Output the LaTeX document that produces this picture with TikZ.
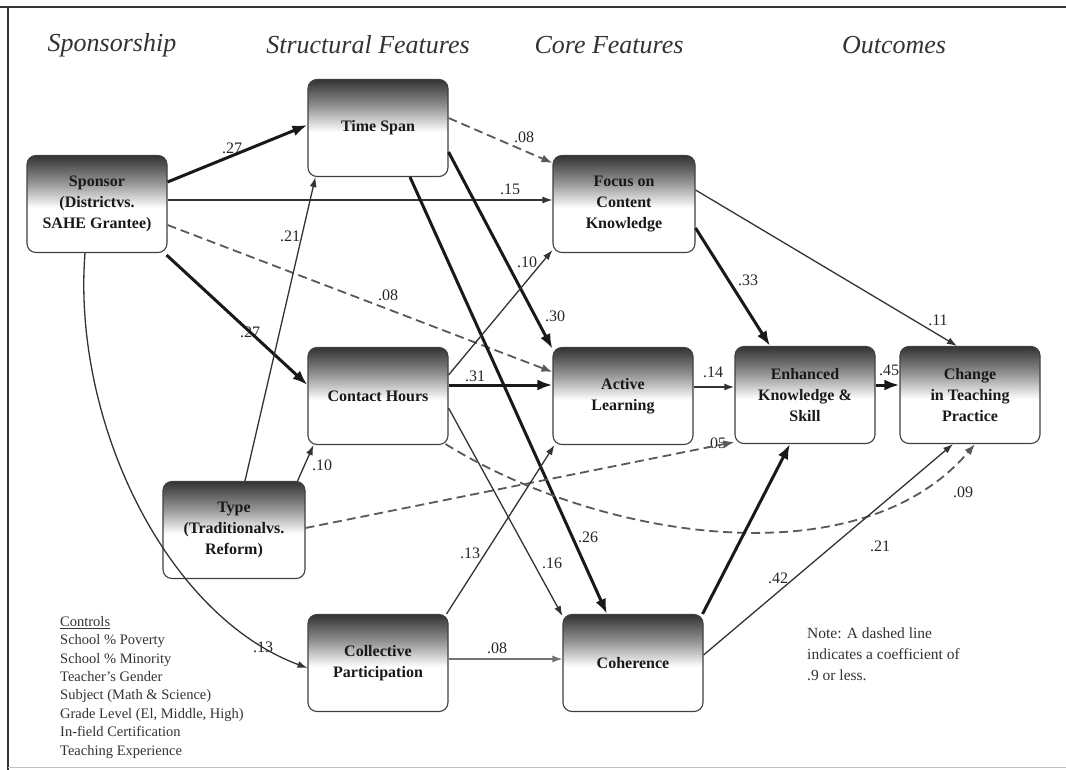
\documentclass[tikz,border=0pt]{standalone}
\usepackage{fontspec}
\setmainfont{Liberation Serif}
\usetikzlibrary{arrows.meta,calc}
\pgfdeclareverticalshading{boxshade}{100bp}{color(0bp)=(white); color(25bp)=(white); color(48bp)=(white); color(61bp)=(black!42); color(75bp)=(black!80); color(100bp)=(black!80)}
\tikzset{
  box/.style={rectangle, rounded corners=9pt, draw=black!75, line width=1.1pt,
    shade, shading=boxshade, minimum width=140pt, minimum height=97pt, inner sep=0pt,
    align=center, font=\bfseries\fontsize{16}{21}\selectfont, text=black!90},
  hdr/.style={font=\itshape\fontsize{26}{30}\selectfont, text=black!80, inner sep=0pt},
  lab/.style={font=\fontsize{16}{18}\selectfont, text=black!85, inner sep=0pt},
  heavy/.style={line width=3pt, black!90, -{Latex[length=15pt,width=11pt]}},
  lite/.style={line width=1.3pt, black!80, -{Latex[length=10pt,width=7pt]}},
  dsh/.style={line width=1.8pt, black!65, dash pattern=on 9pt off 5pt, -{Latex[length=11pt,width=8pt]}},
  note/.style={font=\fontsize{15.5}{21}\selectfont, text=black!80, align=left, inner sep=0pt}
}
\begin{document}
\begin{tikzpicture}[x=1pt,y=-1pt]
\useasboundingbox (0,0) rectangle (1066,770);
\fill[white] (0,0) rectangle (1066,770);
% frame
\draw[line width=2pt, black!80] (0,7) -- (1066,7);
\draw[line width=1.6pt, black!80] (8,7) -- (8,770);
\draw[line width=0.8pt, black!25] (8,767) -- (1066,767);

% headers
\node[hdr] (h1) at (112,45) {Sponsorship};
\node[hdr] (h2) at (368,45) {Structural Features};
\node[hdr] (h3) at (609,45) {Core Features};
\node[hdr] (h4) at (894,45) {Outcomes};

% boxes
\node[box] (sp) at (97,204) {Sponsor\\(Districtvs.\\SAHE Grantee)};
\node[box] (ts) at (378,128) {Time Span};
\node[box, minimum width=142pt] (fo) at (624,204) {Focus on\\Content\\Knowledge};
\node[box] (ch) at (378,396) {Contact Hours};
\node[box] (al) at (623,396) {Active\\Learning};
\node[box] (ek) at (805,395) {Enhanced\\Knowledge \&\\Skill};
\node[box] (ct) at (970,395) {Change\\in Teaching\\Practice};
\node[box, minimum width=142pt] (ty) at (234,530) {Type\\(Traditionalvs.\\Reform)};
\node[box] (cp) at (378,663) {Collective\\Participation};
\node[box] (co) at (633,663) {Coherence};

% labels
\node[lab] (l1) at (232,148) {.27};
\node[lab] (l2) at (510,189) {.15};
\node[lab] (l3) at (524,137) {.08};
\node[lab] (l4) at (290,236) {.21};
\node[lab] (l5) at (527,262) {.10};
\node[lab] (l6) at (388,295) {.08};
\node[lab] (l7) at (250,332) {.27};
\node[lab] (l8) at (555,316) {.30};
\node[lab] (l9) at (748,280) {.33};
\node[lab] (l10) at (938,320) {.11};
\node[lab] (l11) at (475,376) {.31};
\node[lab] (l12) at (713,372) {.14};
\node[lab] (l13) at (889,370) {.45};
\node[lab] (l14) at (322,465) {.10};
\node[lab] (l15) at (716,443) {.05};
\node[lab] (l16) at (470,553) {.13};
\node[lab] (l17) at (588,537) {.26};
\node[lab] (l18) at (552,563) {.16};
\node[lab] (l19) at (778,578) {.42};
\node[lab] (l20) at (880,546) {.21};
\node[lab] (l21) at (963,492) {.09};
\node[lab] (l22) at (263,647) {.13};
\node[lab] (l23) at (497,648) {.08};

% connectors
\draw[heavy] ($(sp.east)+(0,-22)$) -- ($(ts.west)+(0,-3)$);
\draw[lite] ($(sp.east)+(0,-4)$) -- ($(fo.west)+(0,-4)$);
\draw[dsh] ($(sp.east)+(0,21)$) -- ($(al.west)+(0,-24)$);
\draw[heavy] ($(sp.south east)+(-1,2)$) -- ($(ch.west)+(0,-11)$);
\draw[lite] ($(sp.south)+(-12,0)$) .. controls (72,420) and (165,615) .. ($(cp.west)+(0,5)$);
\draw[dsh] ($(ts.east)+(0,-10)$) -- ($(fo.north west)+(0,8)$);
\draw[heavy] ($(ts.east)+(0,24)$) -- ($(al.north west)+(0,2)$);
\draw[heavy] ($(ts.south)+(32,0)$) -- ($(co.north)+(-26,0)$);
\draw[lite] ($(ty.north)+(11,0)$) -- ($(ts.south west)+(8,0)$);
\draw[lite] ($(ty.north east)+(-8,0)$) -- ($(ch.south west)+(6,0)$);
\draw[dsh] ($(ty.east)+(0,-2)$) -- ($(ek.south west)+(0,-2)$);
\draw[lite] ($(ch.east)+(0,-21)$) -- ($(fo.south west)+(0,-3)$);
\draw[heavy] ($(ch.east)+(0,-11)$) -- ($(al.west)+(0,-11)$);
\draw[lite] ($(ch.east)+(0,12)$) -- ($(co.north west)+(0,2)$);
\draw[dsh] ($(ch.south east)+(-3,-1)$) .. controls (600,540) and (860,580) .. ($(ct.south)+(5,0)$);
\draw[lite] ($(cp.north east)+(-2,0)$) -- ($(al.south west)+(2,0)$);
\draw[lite, black!55] ($(cp.east)+(0,-4)$) -- ($(co.west)+(0,-4)$);
\draw[heavy] ($(fo.east)+(0,24)$) -- ($(ek.north)+(-35,0)$);
\draw[lite] ($(fo.east)+(0,-14)$) -- ($(ct.north)+(-13,0)$);
\draw[lite, line width=1.7pt] ($(al.east)+(0,-9)$) -- ($(ek.west)+(0,-8)$);
\draw[heavy] ($(ek.east)+(0,-10)$) -- ($(ct.west)+(0,-10)$);
\draw[heavy] ($(co.north east)+(-1,0)$) -- ($(ek.south)+(-15,0)$);
\draw[lite] ($(co.east)+(0,-8)$) -- ($(ct.south)+(-17,0)$);

% controls list
\node[note, font=\fontsize{14.5}{18.4}\selectfont, anchor=north west] (ctl) at (60,616)
 {\underline{Controls}\\School \% Poverty\\School \% Minority\\Teacher's Gender\\Subject (Math \& Science)\\Grade Level (El, Middle, High)\\In-field Certification\\Teaching Experience};
% note
\node[note, anchor=north west] (nt) at (807,628)
 {Note: A dashed line\\indicates a coefficient of\\.9 or less.};
\end{tikzpicture}
\end{document}
